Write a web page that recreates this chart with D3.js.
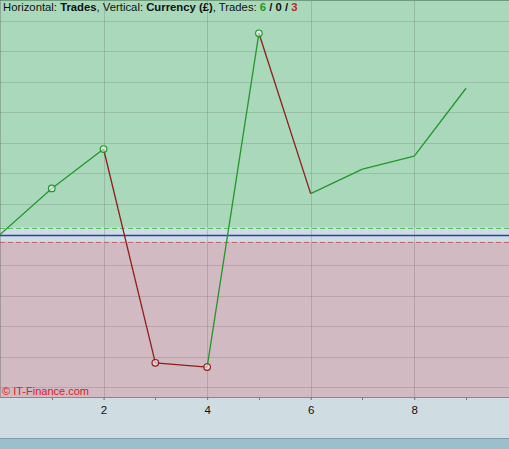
<!DOCTYPE html>
<html>
<head>
<meta charset="utf-8">
<script src="https://cdn.jsdelivr.net/npm/d3@7"></script>
<style>
  html, body { margin: 0; padding: 0; background: #cfdde3; overflow: hidden; }
  svg { display: block; }
</style>
</head>
<body>
<script>
// trade results (running balance, £)
var trades = [0, 1, 2, 3, 4, 5, 6, 7, 8, 9];
var balance = [0, 151, 280, -420, -434, 659, 134, 214, 257, 479];
var markedTrades = [1, 2, 3, 4, 5];
var xTicks = [2, 4, 6, 8];
var minorTicks = [1, 3, 5, 7, 9];
var yGrid = [-500, -400, -300, -200, -100, 100, 200, 300, 400, 500, 600, 700];
var band = [-23, 23];
var tradeCounts = [6, 0, 3];

var w = 509, h = 449;
var plotBottom = 397;

var svg = d3.select("body").append("svg")
  .attr("width", w)
  .attr("height", h)
  .attr("font-family", "'Liberation Sans', Arial, sans-serif");

var x = d3.scaleLinear().domain([0, 9.83]).range([0, w]);
var y = d3.scaleLinear().domain([-532, 768]).range([plotBottom, 0]);

// backgrounds
svg.append("rect").attr("x", 0).attr("y", 0).attr("width", w).attr("height", y(0))
  .attr("fill", "#a9d9ba");
svg.append("rect").attr("x", 0).attr("y", y(0)).attr("width", w).attr("height", plotBottom - y(0))
  .attr("fill", "#d1bac1");
svg.append("rect").attr("x", 0).attr("y", y(band[1])).attr("width", w).attr("height", y(band[0]) - y(band[1]))
  .attr("fill", "#cddde3");

// bottom strip
svg.append("rect").attr("x", 0).attr("y", 438).attr("width", w).attr("height", h - 438)
  .attr("fill", "#9dbecb");
svg.append("line").attr("x1", 0).attr("x2", w).attr("y1", 438.5).attr("y2", 438.5)
  .attr("stroke", "#7d9ba7");

// grid
svg.append("g").selectAll("line").data(yGrid).enter().append("line")
  .attr("x1", 0).attr("x2", w)
  .attr("y1", function(d) { return Math.round(y(d)) + 0.5; })
  .attr("y2", function(d) { return Math.round(y(d)) + 0.5; })
  .attr("stroke", "rgba(70,70,70,0.18)");

svg.append("g").selectAll("line").data(xTicks).enter().append("line")
  .attr("y1", 0).attr("y2", plotBottom + 3)
  .attr("x1", function(d) { return Math.round(x(d)) + 0.5; })
  .attr("x2", function(d) { return Math.round(x(d)) + 0.5; })
  .attr("stroke", "rgba(70,70,70,0.2)");

// band lines
svg.append("line").attr("x1", 0).attr("x2", w)
  .attr("y1", Math.round(y(band[1])) + 0.5).attr("y2", Math.round(y(band[1])) + 0.5)
  .attr("stroke", "#5dbb63").attr("stroke-dasharray", "5,3");
svg.append("line").attr("x1", 0).attr("x2", w)
  .attr("y1", Math.round(y(band[0])) + 0.5).attr("y2", Math.round(y(band[0])) + 0.5)
  .attr("stroke", "#c46a72").attr("stroke-dasharray", "5,3");
svg.append("line").attr("x1", 0).attr("x2", w)
  .attr("y1", Math.round(y(0)) + 0.5).attr("y2", Math.round(y(0)) + 0.5)
  .attr("stroke", "#2f3fb0").attr("stroke-width", 1.3);

// plot borders
svg.append("line").attr("x1", 0).attr("x2", w).attr("y1", 0.5).attr("y2", 0.5)
  .attr("stroke", "#6f9c7d");
svg.append("line").attr("x1", 0).attr("x2", w).attr("y1", plotBottom + 0.5).attr("y2", plotBottom + 0.5)
  .attr("stroke", "#7f8a90");
svg.append("line").attr("x1", 0.5).attr("x2", 0.5).attr("y1", 0).attr("y2", plotBottom)
  .attr("stroke", "rgba(70,70,70,0.3)");

// x axis
var xAxis = d3.axisBottom(x).tickValues(xTicks).tickSize(3).tickPadding(6);
var ax = svg.append("g").attr("transform", "translate(0," + plotBottom + ")").call(xAxis);
ax.select(".domain").remove();
ax.selectAll(".tick line").attr("stroke", "#777");
ax.selectAll("text").attr("font-size", "11.5px").attr("fill", "#111")
  .attr("font-family", "'Liberation Sans', Arial, sans-serif");

svg.append("g").selectAll("line").data(minorTicks).enter().append("line")
  .attr("x1", function(d) { return Math.round(x(d)) + 0.5; })
  .attr("x2", function(d) { return Math.round(x(d)) + 0.5; })
  .attr("y1", plotBottom + 1).attr("y2", plotBottom + 3)
  .attr("stroke", "#777");

// segments: green when rising, red when falling
var segs = d3.range(1, trades.length).map(function(i) {
  return { x0: trades[i - 1], y0: balance[i - 1], x1: trades[i], y1: balance[i], up: balance[i] >= balance[i - 1] };
});
svg.append("g").selectAll("line").data(segs).enter().append("line")
  .attr("x1", function(d) { return x(d.x0); })
  .attr("y1", function(d) { return y(d.y0); })
  .attr("x2", function(d) { return x(d.x1); })
  .attr("y2", function(d) { return y(d.y1); })
  .attr("stroke", function(d) { return d.up ? "#24962c" : "#8e1c1c"; })
  .attr("stroke-width", 1.3);

// markers
svg.append("g").selectAll("circle").data(markedTrades).enter().append("circle")
  .attr("cx", function(i) { return x(trades[i]); })
  .attr("cy", function(i) { return y(balance[i]); })
  .attr("r", 3.3)
  .attr("fill", "rgba(255,255,255,0.55)")
  .attr("stroke", function(i) { return balance[i] >= balance[i - 1] ? "#24962c" : "#8e1c1c"; })
  .attr("stroke-width", 1.2);

// watermark
svg.append("text").attr("x", 2).attr("y", 395)
  .attr("font-size", "11px").attr("fill", "#d9202c")
  .text("© IT-Finance.com");

// title
var title = svg.append("text").attr("x", 3).attr("y", 11)
  .attr("font-size", "11.3px").attr("fill", "#111");
title.append("tspan").text("Horizontal: ");
title.append("tspan").attr("font-weight", "bold").text("Trades");
title.append("tspan").text(", Vertical: ");
title.append("tspan").attr("font-weight", "bold").text("Currency (£)");
title.append("tspan").text(", Trades: ");
title.append("tspan").attr("font-weight", "bold").attr("fill", "#1f9a2a").text(tradeCounts[0]);
title.append("tspan").attr("font-weight", "bold").text(" / " + tradeCounts[1] + " / ");
title.append("tspan").attr("font-weight", "bold").attr("fill", "#c0262c").text(tradeCounts[2]);
</script>
</body>
</html>
